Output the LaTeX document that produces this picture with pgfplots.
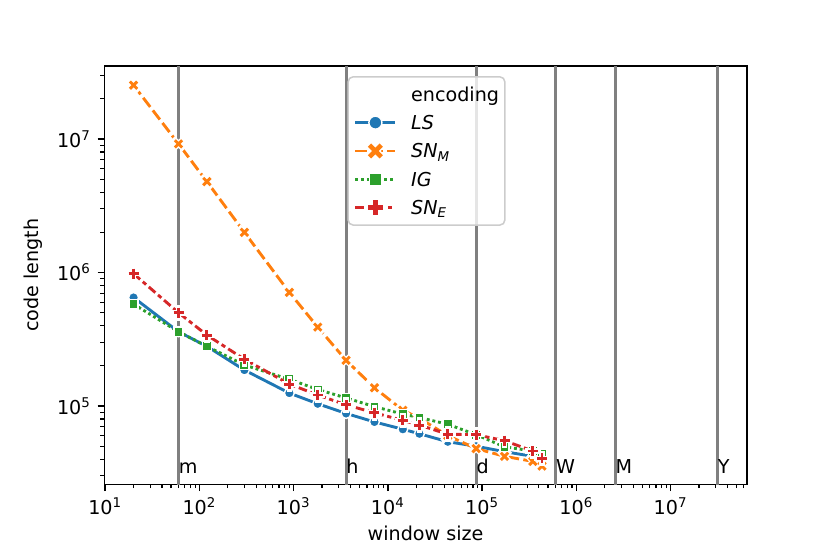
\documentclass[border=0pt]{standalone}
\usepackage{fontspec}
\setmainfont{DejaVu Sans}
\usepackage{pgfplots}
\usepackage{pgfplotstable}
\pgfplotsset{compat=1.18}
\definecolor{c1}{HTML}{1F77B4}
\definecolor{c2}{HTML}{FF7F0E}
\definecolor{c3}{HTML}{2CA02C}
\definecolor{c4}{HTML}{D62728}
\definecolor{vl}{HTML}{808080}
\definecolor{lframe}{HTML}{CCCCCC}

\pgfplotstableread{
x      LS      SNM     IG       SNE
20     6.5e5   2.53e7  5.8e5    9.8e5
60     3.6e5   9.2e6   3.6e5    5.0e5
120    2.8e5   4.8e6   2.8e5    3.4e5
300    1.86e5  2.0e6   2.03e5   2.24e5
900    1.25e5  7.1e5   1.585e5  1.46e5
1800   1.04e5  3.9e5   1.33e5   1.21e5
3600   8.8e4   2.2e5   1.15e5   1.02e5
7200   7.6e4   1.37e5  9.9e4    8.9e4
14400  6.7e4   9.3e4   8.7e4    7.8e4
21600  6.2e4   8.1e4   8.2e4    7.2e4
43200  5.4e4   6.0e4   7.3e4    6.15e4
86400  5.0e4   4.8e4   6.1e4    6.1e4
172800 4.55e4  4.2e4   4.95e4   5.5e4
345600 4.2e4   3.85e4  4.6e4    4.6e4
432000 4.0e4   3.55e4  4.4e4    4.05e4
}\data

\begin{document}
\begin{tikzpicture}
\useasboundingbox (-54.3bp,-36.3bp) rectangle (377.7bp,252.1bp);
\begin{axis}[
  at={(0,0)}, anchor=south west,
  scale only axis, width=334.4bp, height=217.7bp,
  xmode=log, ymode=log,
  xmin=9.79, xmax=6.44e7, ymin=2.59e4, ymax=3.52e7,
  axis line style={line width=0.8bp, black},
  tick align=outside, xtick pos=bottom, ytick pos=left,
  major tick length=3.5bp, minor tick length=2bp,
  major tick style={line width=0.8bp, black},
  minor tick style={line width=0.6bp, black},
  xtick={1e1,1e2,1e3,1e4,1e5,1e6,1e7},
  xticklabels={10\textsuperscript{1},10\textsuperscript{2},10\textsuperscript{3},10\textsuperscript{4},10\textsuperscript{5},10\textsuperscript{6},10\textsuperscript{7}},
  minor xtick={20,30,40,50,60,70,80,90,200,300,400,500,600,700,800,900,2000,3000,4000,5000,6000,7000,8000,9000,2e4,3e4,4e4,5e4,6e4,7e4,8e4,9e4,2e5,3e5,4e5,5e5,6e5,7e5,8e5,9e5,2e6,3e6,4e6,5e6,6e6,7e6,8e6,9e6,2e7,3e7,4e7,5e7,6e7},
  ytick={1e5,1e6,1e7},
  yticklabels={10\textsuperscript{5},10\textsuperscript{6},10\textsuperscript{7}},
  minor ytick={3e4,4e4,5e4,6e4,7e4,8e4,9e4,2e5,3e5,4e5,5e5,6e5,7e5,8e5,9e5,2e6,3e6,4e6,5e6,6e6,7e6,8e6,9e6,2e7,3e7},
  ticklabel style={font=\fontsize{10}{12}\selectfont},
  xlabel={window size}, ylabel={code length},
  label style={font=\fontsize{10}{12}\selectfont},
  xlabel style={inner sep=0pt, yshift=-2bp},
  ylabel style={inner sep=0pt, yshift=4bp},
  legend cell align=left,
  legend style={at={(0.3784,0.976)}, anchor=north west,
    draw=lframe, line width=0.8bp, fill=white, fill opacity=0.8,
    draw opacity=1, text opacity=1,
    rounded corners=2.5bp, inner xsep=3bp, inner ysep=1.7bp,
    row sep=0pt,
    nodes={inner sep=0pt, text height=10.97bp, text depth=3.77bp,
      font=\fontsize{10}{12}\selectfont}},
]
% vertical reference lines
\addplot[vl, line width=1.5bp, forget plot] coordinates {(60,1e4) (60,1e8)};
\addplot[vl, line width=1.5bp, forget plot] coordinates {(3600,1e4) (3600,1e8)};
\addplot[vl, line width=1.5bp, forget plot] coordinates {(86400,1e4) (86400,1e8)};
\addplot[vl, line width=1.5bp, forget plot] coordinates {(604800,1e4) (604800,1e8)};
\addplot[vl, line width=1.5bp, forget plot] coordinates {(2592000,1e4) (2592000,1e8)};
\addplot[vl, line width=1.5bp, forget plot] coordinates {(31536000,1e4) (31536000,1e8)};

% LS
\addplot[c1, line width=1.5bp, forget plot] table[x=x,y=LS]{\data};
\addplot[only marks, mark=*, mark size=2.6bp, mark options={fill=c1, draw=white, line width=0.75bp}, forget plot] table[x=x,y=LS]{\data};
% SN_M
\addplot[c2, line width=1.5bp, dash pattern=on 6bp off 2.25bp, forget plot] table[x=x,y=SNM]{\data};
\addplot[only marks, mark=x, mark size=2.7bp, mark options={draw=white, line width=2.9bp, line cap=rect, solid}, forget plot] table[x=x,y=SNM]{\data};
\addplot[only marks, mark=x, mark size=2.7bp, mark options={draw=c2, line width=1.5bp, solid}, forget plot] table[x=x,y=SNM]{\data};
% IG
\addplot[c3, line width=1.5bp, dash pattern=on 1.5bp off 1.5bp, forget plot] table[x=x,y=IG]{\data};
\addplot[only marks, mark=square*, mark size=2.4bp, mark options={fill=c3, draw=white, line width=0.75bp, solid}, forget plot] table[x=x,y=IG]{\data};
% SN_E
\addplot[c4, line width=1.5bp, dash pattern=on 4.5bp off 1.875bp on 2.25bp off 1.875bp, forget plot] table[x=x,y=SNE]{\data};
\addplot[only marks, mark=+, mark size=2.6bp, mark options={draw=white, line width=2.9bp, line cap=rect, solid}, forget plot] table[x=x,y=SNE]{\data};
\addplot[only marks, mark=+, mark size=2.6bp, mark options={draw=c4, line width=1.5bp, solid}, forget plot] table[x=x,y=SNE]{\data};

% labels for the reference lines
\node[anchor=base west, inner sep=0pt, font=\fontsize{10}{12}\selectfont] at (axis cs:60,3.15e4) {m};
\node[anchor=base west, inner sep=0pt, font=\fontsize{10}{12}\selectfont] at (axis cs:3600,3.15e4) {h};
\node[anchor=base west, inner sep=0pt, font=\fontsize{10}{12}\selectfont] at (axis cs:86400,3.15e4) {d};
\node[anchor=base west, inner sep=0pt, font=\fontsize{10}{12}\selectfont] at (axis cs:604800,3.15e4) {W};
\node[anchor=base west, inner sep=0pt, font=\fontsize{10}{12}\selectfont] at (axis cs:2592000,3.15e4) {M};
\node[anchor=base west, inner sep=0pt, font=\fontsize{10}{12}\selectfont] at (axis cs:31536000,3.15e4) {Y};

% legend
\addlegendimage{legend image code/.code={\path (0bp,0bp) (28.6bp,0bp);}}
\addlegendentry{encoding}
\addlegendimage{legend image code/.code={
  \path (0bp,0bp) (28.6bp,0bp);
  \draw[c1, line width=1.5bp, sharp corners, draw opacity=1] (0bp,0bp) -- (20.8bp,0bp);
  \filldraw[fill=c1, fill opacity=1, draw=white, draw opacity=1, line width=0.75bp, sharp corners] (10.4bp,0bp) circle (3.4bp);
}}
\addlegendentry{\textit{LS}}
\addlegendimage{legend image code/.code={
  \path (0bp,0bp) (28.6bp,0bp);
  \draw[c2, line width=1.5bp, dash pattern=on 6bp off 2.25bp, draw opacity=1, sharp corners] (0bp,0bp) -- (20.8bp,0bp);
  \draw[white, line width=3.8bp, line cap=rect, draw opacity=1, sharp corners] (8.2bp,-2.2bp) -- (12.6bp,2.2bp) (8.2bp,2.2bp) -- (12.6bp,-2.2bp);
  \draw[c2, line width=2.4bp, line cap=rect, draw opacity=1, sharp corners] (8.2bp,-2.2bp) -- (12.6bp,2.2bp) (8.2bp,2.2bp) -- (12.6bp,-2.2bp);
}}
\addlegendentry{\textit{SN}\textsubscript{\textit{M}}}
\addlegendimage{legend image code/.code={
  \path (0bp,0bp) (28.6bp,0bp);
  \draw[c3, line width=1.5bp, dash pattern=on 1.5bp off 1.5bp, draw opacity=1, sharp corners] (0bp,0bp) -- (20.8bp,0bp);
  \filldraw[fill=c3, fill opacity=1, draw=white, draw opacity=1, line width=0.75bp, sharp corners] (7.3bp,-3.1bp) rectangle (13.5bp,3.1bp);
}}
\addlegendentry{\textit{IG}}
\addlegendimage{legend image code/.code={
  \path (0bp,0bp) (28.6bp,0bp);
  \draw[c4, line width=1.5bp, dash pattern=on 4.5bp off 1.875bp on 2.25bp off 1.875bp, draw opacity=1, sharp corners] (0bp,0bp) -- (20.8bp,0bp);
  \draw[white, line width=3.8bp, line cap=rect, draw opacity=1, sharp corners] (7.4bp,0bp) -- (13.4bp,0bp) (10.4bp,-3bp) -- (10.4bp,3bp);
  \draw[c4, line width=2.4bp, line cap=rect, draw opacity=1, sharp corners] (7.6bp,0bp) -- (13.2bp,0bp) (10.4bp,-2.8bp) -- (10.4bp,2.8bp);
}}
\addlegendentry{\textit{SN}\textsubscript{\textit{E}}}
\end{axis}
\end{tikzpicture}
\end{document}
